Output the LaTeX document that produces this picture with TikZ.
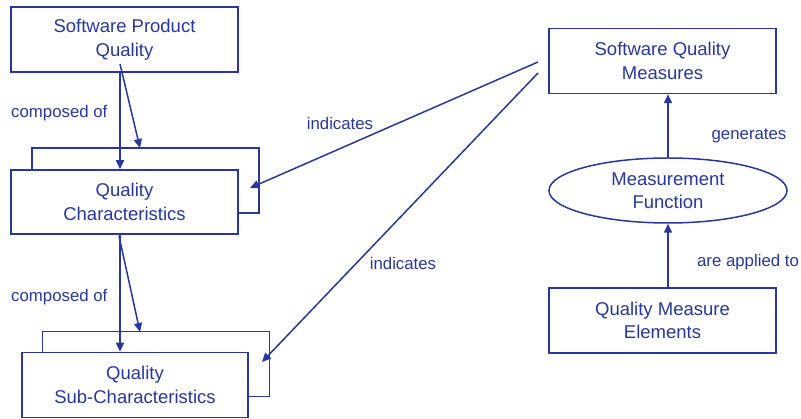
\documentclass[tikz,border=0pt]{standalone}
\usepackage{fontspec}
\setmainfont{Liberation Sans}
\usetikzlibrary{arrows.meta,shapes.geometric}
\definecolor{navy}{RGB}{40,55,160}
\tikzset{
  every node/.style={text=navy},
  box/.style={draw=navy, line width=1.5pt, fill=white, align=center,
    font=\fontsize{18.5}{23.5}\selectfont,
    minimum width=#1, minimum height=65pt, inner sep=0pt},
  box/.default=227pt,
  oval/.style={draw=navy, line width=1.5pt, fill=white, ellipse, align=center,
    font=\fontsize{18.5}{23.5}\selectfont,
    minimum width=238pt, minimum height=65pt, inner sep=0pt},
  lbl/.style={inner sep=0pt, font=\fontsize{16.8}{20}\selectfont},
  link/.style={draw=navy, line width=1.5pt, -{Triangle[length=9pt,width=8pt]}},
}
\begin{document}
\begin{tikzpicture}[x=1pt,y=-1pt]
\useasboundingbox (0,0) rectangle (801,419);

% left column: product quality broken down into characteristics
\node[box] (spq) at (124.5,39.5) {Software Product\\Quality};
\node[box] (qcback) at (145.5,180.5) {};
\node[box, minimum height=64pt] (qc) at (124.5,202) {Quality\\Characteristics};
\node[box] (qsback) at (156,364) {};
\node[box, minimum width=226pt] (qs) at (135,385) {Quality\\Sub-Characteristics};

% right column: measurement chain
\node[box] (sqm) at (662.5,61) {Software Quality\\Measures};
\node[oval] (mf) at (668,190.5) {Measurement\\Function};
\node[box] (qme) at (662.5,320.5) {Quality Measure\\Elements};

% helper points
\coordinate (colA) at (120,0);
\coordinate (d1s) at (120,64);
\coordinate (d1e) at (140,148);
\coordinate (d2s) at (119,236);
\coordinate (d2e) at (140,332);
\coordinate (i1s) at (538,62);
\coordinate (i1e) at (250,188);
\coordinate (i2s) at (538,73);
\coordinate (i2e) at (262,362);

% composition links
\draw[link] (spq.south -| colA) -- (qc.north -| colA);
\draw[link] (d1s) -- (d1e);
\draw[link] (qc.south -| colA) -- (qs.north -| colA);
\draw[link] (d2s) -- (d2e);
\node[lbl, anchor=west] (co1) at (11,113) {composed of};
\node[lbl, anchor=west] (co2) at (11,297) {composed of};

% indication links
\draw[link] (i1s) -- (i1e);
\draw[link] (i2s) -- (i2e);
\node[lbl] (in1) at (340,123) {indicates};
\node[lbl] (in2) at (403,263) {indicates};

% measurement links
\draw[link] (qme.north -| mf) -- (mf.south);
\draw[link] (mf.north) -- (sqm.south -| mf);
\node[lbl] (gen) at (749,136) {generates};
\node[lbl] (app) at (748,262) {are applied to};
\end{tikzpicture}
\end{document}
